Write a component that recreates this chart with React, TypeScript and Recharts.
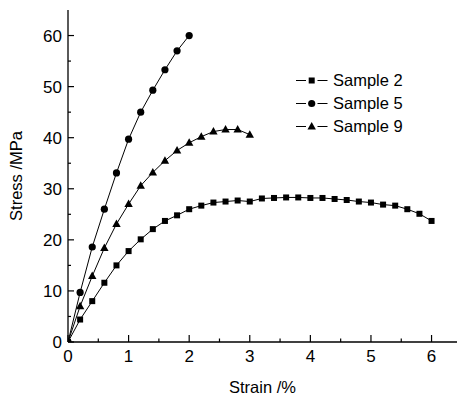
import { LineChart, Line, XAxis, YAxis, Legend } from "recharts";

// Sample 2 (squares)
const strain2 = [0, 0.2, 0.4, 0.6, 0.8, 1.0, 1.2, 1.4, 1.6, 1.8, 2.0, 2.2, 2.4, 2.6, 2.8, 3.0, 3.2, 3.4, 3.6, 3.8, 4.0, 4.2, 4.4, 4.6, 4.8, 5.0, 5.2, 5.4, 5.6, 5.8, 6.0];
const stress2 = [0, 4.4, 8.0, 11.6, 15.0, 17.8, 20.1, 22.1, 23.7, 24.8, 26.0, 26.7, 27.3, 27.5, 27.7, 27.5, 28.1, 28.2, 28.3, 28.3, 28.2, 28.2, 28.0, 27.8, 27.5, 27.3, 26.9, 26.7, 26.0, 25.1, 23.7];

// Sample 5 (circles)
const strain5 = [0, 0.2, 0.4, 0.6, 0.8, 1.0, 1.2, 1.4, 1.6, 1.8, 2.0];
const stress5 = [0, 9.7, 18.6, 26.0, 33.1, 39.7, 45.0, 49.3, 53.3, 57.0, 60.0];

// Sample 9 (triangles)
const strain9 = [0, 0.2, 0.4, 0.6, 0.8, 1.0, 1.2, 1.4, 1.6, 1.8, 2.0, 2.2, 2.4, 2.6, 2.8, 3.0];
const stress9 = [0, 7.0, 12.9, 18.4, 23.1, 27.0, 30.6, 33.2, 35.5, 37.5, 39.0, 40.2, 41.2, 41.6, 41.6, 40.6];

const xTicks = [0, 0.5, 1, 1.5, 2, 2.5, 3, 3.5, 4, 4.5, 5, 5.5, 6];
const yTicks = [0, 5, 10, 15, 20, 25, 30, 35, 40, 45, 50, 55, 60];
const topTicks = [1, 2, 3, 4, 5, 6, 7, 8, 9];

const toRows = (xs: number[], ys: number[]) => xs.map((x, i) => ({ strain: x, stress: ys[i] }));
const data2 = toRows(strain2, stress2);
const data5 = toRows(strain5, stress5);
const data9 = toRows(strain9, stress9);

const FONT = '"Liberation Sans", Arial, sans-serif';

const Marker = ({ kind, cx, cy }: { kind: string; cx: number; cy: number }) => {
  if (kind === "square") return <rect x={cx - 3} y={cy - 3} width={6} height={6} fill="#000" />;
  if (kind === "circle") return <circle cx={cx} cy={cy} r={3.6} fill="#000" />;
  return <polygon points={`${cx},${cy - 4.5} ${cx + 4.2},${cy + 3} ${cx - 4.2},${cy + 3}`} fill="#000" />;
};

const dotOf = (kind: string) => (p: any) =>
  <Marker key={`${kind}-${p.index}`} kind={kind} cx={p.cx} cy={p.cy} />;

const markerByName: Record<string, string> = {
  "Sample 2": "square",
  "Sample 5": "circle",
  "Sample 9": "triangle",
};

const YTick = (p: any) => {
  const major = p.payload.value % 10 === 0;
  return (
    <g>
      <line x1={p.x} x2={p.x + (major ? 6 : 3)} y1={p.y} y2={p.y} stroke="#000" strokeWidth={1.2} />
      {major && (
        <text x={p.x - 6} y={p.y} dy="0.36em" textAnchor="end" fontSize={17} fontFamily={FONT} fill="#000">
          {p.payload.value}
        </text>
      )}
    </g>
  );
};

const XTick = (p: any) => {
  const major = Number.isInteger(p.payload.value);
  return (
    <g>
      <line x1={p.x} x2={p.x} y1={p.y} y2={p.y - (major ? 7 : 3.5)} stroke="#000" strokeWidth={1.2} />
      {major && (
        <text x={p.x} y={p.y + 20} textAnchor="middle" fontSize={17} fontFamily={FONT} fill="#000">
          {p.payload.value}
        </text>
      )}
    </g>
  );
};

const TopTick = (p: any) => (
  <line x1={p.x} x2={p.x} y1={p.y} y2={p.y + 2} stroke="#000" strokeWidth={1.2} />
);

const LegendBox = ({ payload }: any) => (
  <div style={{ fontFamily: FONT, fontSize: 16.5, color: "#000" }}>
    {(payload || []).map((e: any) => (
      <div key={e.value} style={{ display: "flex", alignItems: "center", height: 23 }}>
        <svg width={32} height={23}>
          <line x1={0} x2={10} y1={11.5} y2={11.5} stroke="#000" strokeWidth={1} />
          <line x1={21.5} x2={31.5} y1={11.5} y2={11.5} stroke="#000" strokeWidth={1} />
          <Marker kind={markerByName[e.value]} cx={15.7} cy={11.5} />
        </svg>
        <span style={{ marginLeft: 5 }}>{e.value}</span>
      </div>
    ))}
  </div>
);

export default function App() {
  return (
    <div style={{ position: "absolute", left: 0, top: 0, background: "#fff" }}>
      <LineChart width={457} height={398} margin={{ top: 10, right: 0, bottom: 26, left: 8 }}>
        <XAxis
          type="number"
          dataKey="strain"
          domain={[0, 6.42]}
          ticks={xTicks}
          allowDataOverflow
          height={30}
          tickSize={0}
          tickMargin={0}
          tick={<XTick />}
          tickLine={false}
          axisLine={{ stroke: "#000", strokeWidth: 1.3 }}
          label={{
            content: (p: any) => {
              const vb = p.viewBox || {};
              return (
                <text x={vb.x + vb.width / 2} y={393} textAnchor="middle" fontSize={16.5} fontFamily={FONT} fill="#000">
                  Strain /%
                </text>
              );
            },
          }}
        />
        <XAxis
          xAxisId="top"
          orientation="top"
          type="number"
          domain={[0, 9.87]}
          ticks={topTicks}
          allowDataOverflow
          height={0}
          tickSize={0}
          tickMargin={0}
          tick={<TopTick />}
          tickLine={false}
          axisLine={{ stroke: "#333", strokeWidth: 1.5 }}
        />
        <YAxis
          type="number"
          domain={[0, 65]}
          ticks={yTicks}
          allowDataOverflow
          width={60}
          tickSize={0}
          tickMargin={0}
          tick={<YTick />}
          tickLine={false}
          axisLine={{ stroke: "#000", strokeWidth: 1.3 }}
          label={{
            content: (p: any) => {
              const vb = p.viewBox || {};
              const cy = vb.y + vb.height / 2;
              return (
                <text
                  x={16}
                  y={cy}
                  transform={`rotate(-90, 16, ${cy})`}
                  textAnchor="middle"
                  dominantBaseline="central"
                  fontSize={16.5}
                  fontFamily={FONT}
                  fill="#000"
                >
                  Stress /MPa
                </text>
              );
            },
          }}
        />
        <Legend
          layout="horizontal"
          verticalAlign="middle"
          align="center"
          content={<LegendBox />}
          wrapperStyle={{ position: "absolute", left: 296, top: 68.5, width: "auto" }}
        />
        <Line data={data2} dataKey="stress" name="Sample 2" stroke="#000" strokeWidth={1} dot={dotOf("square")} activeDot={false} isAnimationActive={false} />
        <Line data={data5} dataKey="stress" name="Sample 5" stroke="#000" strokeWidth={1} dot={dotOf("circle")} activeDot={false} isAnimationActive={false} />
        <Line data={data9} dataKey="stress" name="Sample 9" stroke="#000" strokeWidth={1} dot={dotOf("triangle")} activeDot={false} isAnimationActive={false} />
      </LineChart>
    </div>
  );
}
